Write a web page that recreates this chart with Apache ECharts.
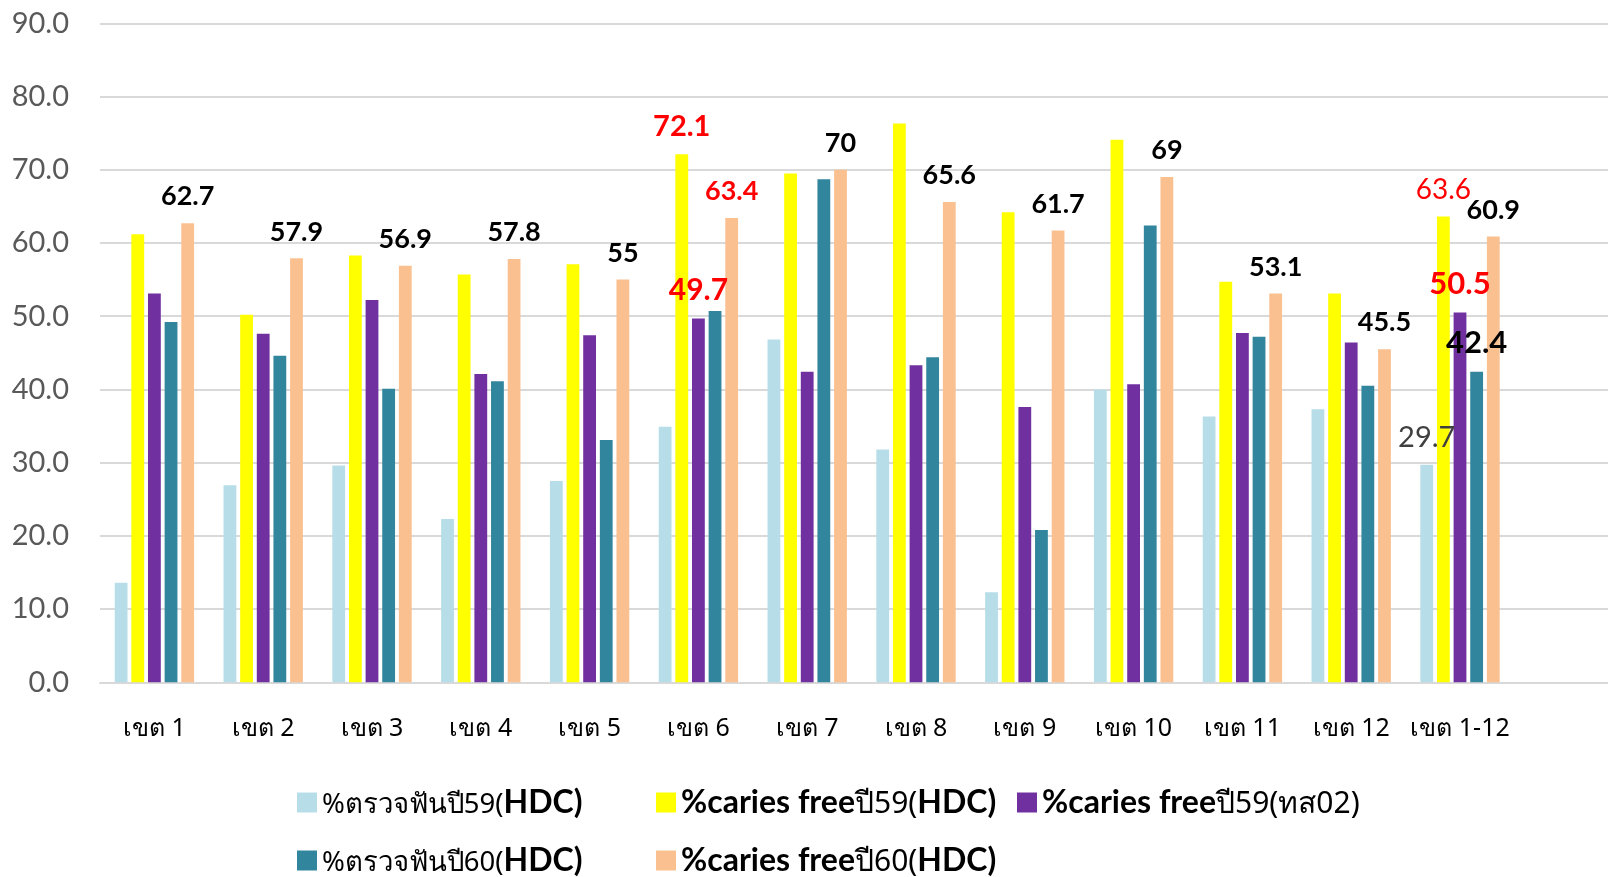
<!DOCTYPE html>
<html>
<head>
<meta charset="utf-8">
<script src="https://cdn.jsdelivr.net/npm/echarts@6/dist/echarts.min.js"></script>
<style>
html,body{margin:0;padding:0;background:#fff;overflow:hidden;width:1608px;height:877px;}
#c{width:1624px;height:877px;}
</style>
</head>
<body>
<div id="c"></div>
<script>
// ---- data ----
const categories = ['เขต 1','เขต 2','เขต 3','เขต 4','เขต 5','เขต 6','เขต 7','เขต 8','เขต 9','เขต 10','เขต 11','เขต 12','เขต 1-12',''];
const seriesNames = ['%ตรวจฟันปี59(HDC)','%caries freeปี59(HDC)','%caries freeปี59(ทส02)','%ตรวจฟันปี60(HDC)','%caries freeปี60(HDC)'];
const exam59 = [13.6, 26.9, 29.6, 22.3, 27.5, 34.9, 46.8, 31.8, 12.3, 40.0, 36.3, 37.3, 29.7];
const cariesFree59HDC = [61.2, 50.2, 58.3, 55.7, 57.1, 72.1, 69.5, 76.3, 64.2, 74.1, 54.7, 53.1, 63.6];
const cariesFree59TS02 = [53.1, 47.6, 52.2, 42.1, 47.4, 49.7, 42.4, 43.3, 37.6, 40.7, 47.7, 46.4, 50.5];
const exam60 = [49.2, 44.6, 40.1, 41.1, 33.1, 50.7, 68.7, 44.4, 20.8, 62.4, 47.2, 40.5, 42.4];
const cariesFree60HDC = [62.7, 57.9, 56.9, 57.8, 55, 63.4, 70, 65.6, 61.7, 69, 53.1, 45.5, 60.9];
const yTicks = [0, 10, 20, 30, 40, 50, 60, 70, 80, 90];

// ---- styling ----
const colors = ['#B7DEE8', '#FFFF00', '#7030A0', '#31859C', '#FAC090'];
const LAT = 'Lato, "Open Sans", "Noto Sans", sans-serif';
const TH = '"Noto Sans", "DejaVu Sans", sans-serif';

// label overrides: [seriesIndex, dataIndex, color, fontSize, weight]
const labelOverrides = [
  [4, 5, '#FF0000', 27, 'bold'],
  [1, 5, '#FF0000', 29, 'bold'],
  [1, 12, '#FF0000', 28, 'normal'],
  [2, 5, '#FF0000', 30, 'bold'],
  [2, 12, '#FF0000', 31, 'bold'],
  [3, 12, '#000000', 31, 'bold'],
  [0, 12, '#404040', 29, 'normal']
];

const allData = [exam59, cariesFree59HDC, cariesFree59TS02, exam60, cariesFree60HDC];

function buildSeries(si) {
  const data = allData[si].map((v, i) => {
    const ov = labelOverrides.find(o => o[0] === si && o[1] === i);
    if (ov) {
      return {
        value: v,
        label: {show: true, color: ov[2], fontSize: ov[3], fontWeight: ov[4]}
      };
    }
    return v;
  });
  return {
    name: seriesNames[si],
    type: 'bar',
    data: data,
    barWidth: 12.8,
    barGap: '30%',
    itemStyle: {color: colors[si]},
    label: {
      show: si === 4,
      position: 'top',
      distance: 13,
      fontFamily: LAT,
      fontSize: 27,
      fontWeight: 'bold',
      color: '#000'
    },
    emphasis: {disabled: true}
  };
}

const legendFormat = {
  '%ตรวจฟันปี59(HDC)': '{m|%ตรวจฟันปี59(}{b|HDC)}',
  '%caries freeปี59(HDC)': '{b|%caries free}{n|ปี59(}{b|HDC)}',
  '%caries freeปี59(ทส02)': '{b|%caries free}{n|ปี59(ทส02)}',
  '%ตรวจฟันปี60(HDC)': '{m|%ตรวจฟันปี60(}{b|HDC)}',
  '%caries freeปี60(HDC)': '{b|%caries free}{n|ปี60(}{b|HDC)}'
};
const legendPos = [[297, 787], [656, 787], [1017, 787], [297, 845], [656, 845]];

const legends = seriesNames.map((nm, i) => ({
  data: [nm],
  left: legendPos[i][0],
  top: legendPos[i][1],
  padding: 0,
  itemWidth: 20,
  itemHeight: 20,
  icon: 'rect',
  itemGap: 0,
  selectedMode: false,
  formatter: n => legendFormat[n],
  textStyle: {
    padding: [0, 0, 0, 0],
    rich: {
      m: {fontFamily: TH, fontSize: 27.5, color: '#000', verticalAlign: 'bottom', lineHeight: 33},
      n: {fontFamily: TH, fontSize: 30, color: '#000', verticalAlign: 'bottom', lineHeight: 33},
      b: {fontFamily: LAT, fontSize: 32, fontWeight: 'bold', color: '#000', verticalAlign: 'bottom', lineHeight: 33}
    }
  }
}));

const chart = echarts.init(document.getElementById('c'), null, {renderer: 'canvas'});
chart.setOption({
  animation: false,
  backgroundColor: '#fff',
  grid: {left: 100, right: 0.8, top: 23.3, bottom: 194.7, containLabel: false},
  legend: legends,
  xAxis: {
    type: 'category',
    data: categories,
    axisLine: {show: true, lineStyle: {color: '#D9D9D9', width: 2}},
    axisTick: {show: false},
    axisLabel: {fontFamily: TH, fontSize: 25, color: '#000', margin: 34, interval: 0}
  },
  yAxis: {
    type: 'value',
    min: yTicks[0],
    max: yTicks[yTicks.length - 1],
    interval: yTicks[1] - yTicks[0],
    axisLine: {show: false},
    axisTick: {show: false},
    splitLine: {lineStyle: {color: '#D9D9D9', width: 2}},
    axisLabel: {fontFamily: LAT, fontSize: 29, color: '#595959', margin: 31, formatter: v => v.toFixed(1)}
  },
  series: [0, 1, 2, 3, 4].map(buildSeries)
});
</script>
</body>
</html>
